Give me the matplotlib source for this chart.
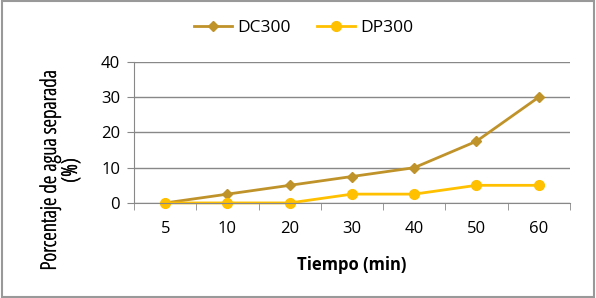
import matplotlib.pyplot as plt
import matplotlib.patheffects as pe
from matplotlib.patches import Rectangle

tiempos = ['5', '10', '20', '30', '40', '50', '60']
dc300 = [0, 2.5, 5, 7.5, 10, 17.5, 30]
dp300 = [0, 0, 0, 2.5, 2.5, 5, 5]

plt.rcParams['font.family'] = ['Open Sans', 'DejaVu Sans']

fig = plt.figure(figsize=(5.96, 2.98), dpi=100)
ax = fig.add_axes([0.225, 0.319, 0.731, 0.473])

x = range(len(tiempos))
ax.plot(x, dc300, color='#C0922A', lw=2, marker='D', ms=5, label='DC300')
ax.plot(x, dp300, color='#FFC000', lw=2, marker='o', ms=7, label='DP300')

ax.set_ylim(0, 40)
ax.set_yticks([0, 10, 20, 30, 40])
ax.set_xlim(-0.5, 6.5)
ax.set_xticks(list(x))
ax.set_xticklabels(tiempos)
ax.set_xticks([i + 0.5 for i in range(-1, 7)], minor=True)
ax.tick_params(axis='x', which='major', length=0, pad=13, labelsize=12)
ax.tick_params(axis='x', which='minor', length=5, color='#888888')
ax.tick_params(axis='y', length=5, color='#888888', labelsize=12, pad=5)
ax.grid(axis='y', color='#888888', lw=1)
ax.set_axisbelow(True)
for s in ['top', 'right']:
    ax.spines[s].set_visible(False)
ax.spines['left'].set_color('#888888')
ax.spines['bottom'].set_color('#888888')
for ln in ax.lines:
    ln.set_clip_on(False)

ax.set_xlabel('Tiempo (min)', fontsize=12, fontweight='bold', labelpad=14)
ax.set_ylabel('Porcentaje de agua separada\n(%)', fontsize=15.5, fontstretch='condensed',
              linespacing=1.0,
              path_effects=[pe.withStroke(linewidth=0.4, foreground='black')])
ax.yaxis.set_label_coords(-0.12, 0.23)

fig.legend(loc='center', bbox_to_anchor=(0.51, 0.905), ncol=2, frameon=False,
           fontsize=12.5, handlelength=2.2, handletextpad=0.3, columnspacing=1.5)

fig.patches.append(Rectangle((0.003, 0.003), 0.994, 0.994, transform=fig.transFigure,
                             fill=False, edgecolor='#999999', lw=1.5))

fig.savefig('out.png', dpi=100)
